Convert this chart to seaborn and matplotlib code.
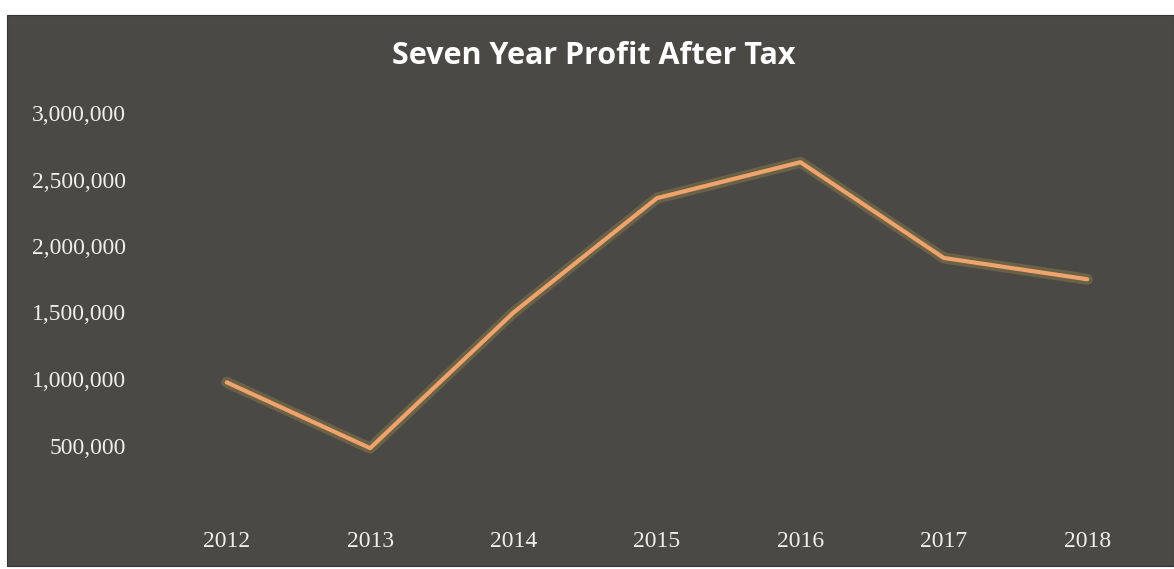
import matplotlib
matplotlib.use("Agg")
import matplotlib.pyplot as plt
import matplotlib.patheffects as pe
from matplotlib.patches import Rectangle
from matplotlib.ticker import FuncFormatter
import pandas as pd
import seaborn as sns

# data
years = ["2012", "2013", "2014", "2015", "2016", "2017", "2018"]
profit = [975000, 480000, 1500000, 2360000, 2630000, 1910000, 1750000]
y_ticks = [500000, 1000000, 1500000, 2000000, 2500000, 3000000]

df = pd.DataFrame({"year": years, "profit": profit})

sns.set_style("white")
plt.rcParams["font.family"] = ["Liberation Serif", "DejaVu Serif"]

bg = "#4a4946"
line_color = "#eea46c"

fig = plt.figure(figsize=(11.74, 5.69), dpi=100, facecolor="white")
# dark chart panel inside the white scan border
fig.patches.append(Rectangle((7 / 1174, 1 - 566 / 569), 1167 / 1174, 551 / 569,
                             transform=fig.transFigure, facecolor=bg,
                             edgecolor="#333333", linewidth=0.8, zorder=-5))

ax = fig.add_axes([155 / 1174, 1 - 512 / 569, 1004 / 1174, 399 / 569])
ax.set_facecolor("none")
ax.set_zorder(2)

sns.lineplot(data=df, x="year", y="profit", ax=ax, color=line_color,
             linewidth=3, sort=False,
             path_effects=[pe.Stroke(linewidth=8, foreground="#b89a4a", alpha=0.3),
                           pe.Normal()])

ax.set_xlim(-0.5, len(years) - 0.5)
ax.set_ylim(0, 3000000)
ax.set_yticks(y_ticks)
ax.yaxis.set_major_formatter(FuncFormatter(lambda v, p: f"{int(v):,}"))
ax.tick_params(axis="y", length=0, pad=21, labelsize=17, labelcolor="#eeeeea")
ax.tick_params(axis="x", length=0, pad=14, labelsize=17, labelcolor="#eeeeea")
ax.set_xlabel("")
ax.set_ylabel("")
for s in ax.spines.values():
    s.set_visible(False)

fig.text(594 / 1174, 1 - 56 / 569, "Seven Year Profit After Tax",
         ha="center", va="center", fontsize=22, fontweight="bold",
         color="white", family=["Open Sans", "DejaVu Sans"], zorder=3)

fig.savefig("out.png", dpi=100, facecolor="white")
